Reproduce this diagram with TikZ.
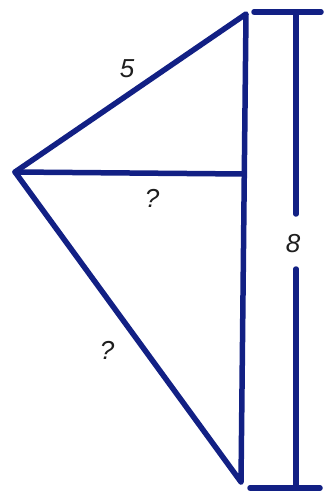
\documentclass[tikz,border=0pt]{standalone}
\usepackage{fontspec}
\setmainfont{Liberation Sans}
\definecolor{navy}{RGB}{18,32,132}
\definecolor{lbl}{RGB}{30,30,30}
\begin{document}
\begin{tikzpicture}[x=1pt,y=-1pt,
  edge/.style={draw=navy,line width=5.5pt,line cap=round,line join=round},
  lab/.style={text=lbl,font=\itshape\fontsize{26}{26}\selectfont,inner sep=0pt}]
\useasboundingbox (0,0) rectangle (329,494);
\coordinate (L) at (15,172);
\coordinate (T) at (246,14);
\coordinate (B) at (241,482);
\coordinate (F) at (244,174);
\draw[edge] (B) -- (L) -- (T) -- (B);
\draw[edge] (L) -- (F);
\coordinate (DT) at (296,12);
\coordinate (DB) at (296,488);
\coordinate (DTL) at (254,12);
\coordinate (DTR) at (321,12);
\coordinate (DBL) at (250,488);
\coordinate (DBR) at (320,488);
\coordinate (G1) at (296,214);
\coordinate (G2) at (296,269);
\draw[edge] (DTL) -- (DTR);
\draw[edge] (DBL) -- (DBR);
\draw[edge] (DT) -- (G1);
\draw[edge] (G2) -- (DB);
\node[lab] (l5) at (127,69) {5};
\node[lab] (q1) at (152,198) {?};
\node[lab] (l8) at (293,244) {8};
\node[lab] (q2) at (107,350) {?};
\end{tikzpicture}
\end{document}
